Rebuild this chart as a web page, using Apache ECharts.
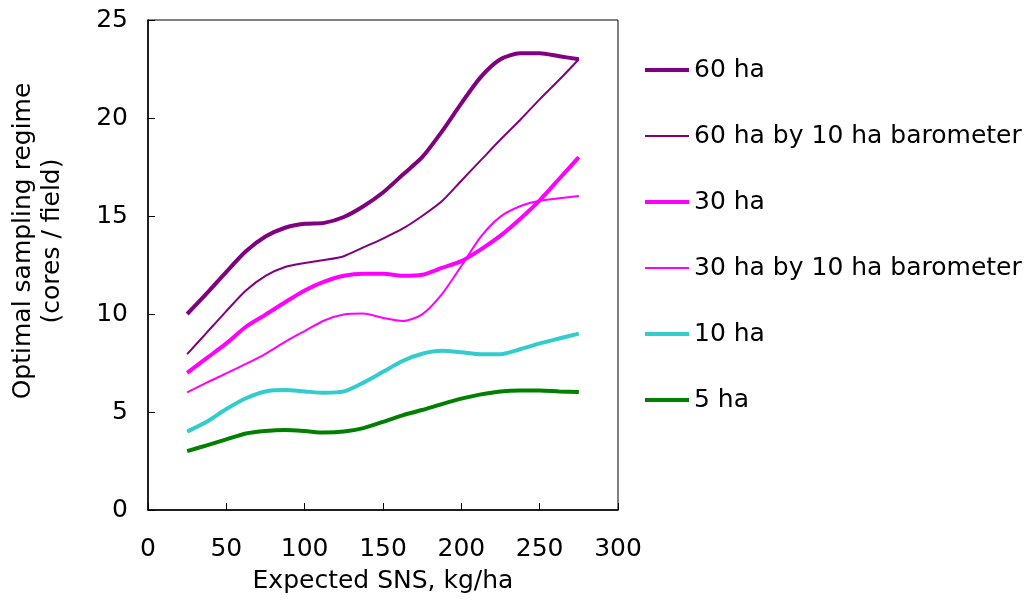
<!DOCTYPE html>
<html>
<head>
<meta charset="utf-8">
<script src="https://cdn.jsdelivr.net/npm/echarts@6/dist/echarts.min.js"></script>
<style>html,body{margin:0;padding:0;background:#fff;}#c{width:1024px;height:600px;}</style>
</head>
<body>
<div id="c"></div>
<script>
var sns = [25,37.5,50,62.5,75,87.5,100,112.5,125,137.5,150,162.5,175,187.5,200,212.5,225,237.5,250,262.5,275];
var ha60 = [10.0,11.05,12.15,13.2,13.95,14.4,14.6,14.65,14.95,15.5,16.2,17.1,18.0,19.3,20.75,22.1,23.0,23.3,23.3,23.15,23.0];
var ha60by10 = [7.95,9.05,10.15,11.2,11.95,12.4,12.6,12.75,12.95,13.4,13.85,14.35,15.0,15.75,16.8,17.85,18.9,19.9,20.95,21.95,23.0];
var ha30 = [7.0,7.75,8.5,9.35,9.97,10.6,11.2,11.65,11.95,12.05,12.05,11.95,12.0,12.35,12.7,13.3,14.0,14.85,15.8,16.9,18.0];
var ha30by10 = [6.0,6.5,6.97,7.45,7.97,8.58,9.13,9.67,9.97,10.02,9.8,9.64,9.98,11.0,12.45,13.95,14.97,15.5,15.78,15.9,16.02];
var ha10 = [4.0,4.5,5.15,5.7,6.05,6.12,6.05,5.98,6.05,6.5,7.05,7.6,7.97,8.12,8.05,7.95,7.95,8.2,8.5,8.75,9.0];
var ha5 = [3.0,3.3,3.6,3.9,4.03,4.08,4.03,3.95,4.0,4.18,4.5,4.83,5.1,5.4,5.68,5.9,6.05,6.1,6.1,6.05,6.02];
var seriesNames = ['60 ha','60 ha by 10 ha barometer','30 ha','30 ha by 10 ha barometer','10 ha','5 ha'];
var seriesValues = [ha60, ha60by10, ha30, ha30by10, ha10, ha5];
var seriesColors = ['#800080','#800080','#FF00FF','#FF00FF','#33CCCC','#008000'];
var seriesWidths = [4,2,4,2,4,4];
var xTicks = [0,50,100,150,200,250,300];
var yTicks = [0,5,10,15,20,25];

var FONT = 'DejaVu Sans';
var chart = echarts.init(document.getElementById('c'), null, {renderer:'canvas'});
var series = seriesNames.map(function(n, i){
  return {
    name: n, type: 'line', smooth: 0.25, symbol: 'none', showSymbol: false,
    data: sns.map(function(x, j){ return [x, seriesValues[i][j]]; }),
    lineStyle: {color: seriesColors[i], width: seriesWidths[i]},
    itemStyle: {color: seriesColors[i]},
    z: 10 - i
  };
});
chart.setOption({
  animation: false,
  backgroundColor: '#fff',
  grid: {left:148, top:20, width:470, height:490, show:true, borderColor:'#000', borderWidth:1, backgroundColor:'transparent'},
  xAxis: {
    type:'value', min:xTicks[0], max:xTicks[xTicks.length-1], interval:50,
    name:'Expected SNS, kg/ha', nameLocation:'middle', nameGap:59,
    nameTextStyle:{fontFamily:FONT, fontSize:25, color:'#000'},
    axisLine:{show:true, lineStyle:{color:'#000', width:1.5}},
    axisTick:{show:true, inside:true, length:7, lineStyle:{color:'#000', width:1}},
    axisLabel:{fontFamily:FONT, fontSize:25, color:'#000', margin:27},
    splitLine:{show:false}
  },
  yAxis: {
    type:'value', min:yTicks[0], max:yTicks[yTicks.length-1], interval:5,
    axisLine:{show:true, lineStyle:{color:'#000', width:1.5}},
    axisTick:{show:true, inside:true, length:7, lineStyle:{color:'#000', width:1}},
    axisLabel:{fontFamily:FONT, fontSize:25, color:'#000', margin:20},
    splitLine:{show:false}
  },
  legend: {
    orient:'vertical', left:643, top:57, padding:0, itemWidth:44, itemHeight:14, itemGap:40,
    data: seriesNames.map(function(n, i){
      return {name:n, itemStyle:{opacity:0}, lineStyle:{width:seriesWidths[i], color:seriesColors[i]}};
    }),
    textStyle:{fontFamily:FONT, fontSize:25, color:'#000', lineHeight:26}
  },
  graphic: [{
    type:'text', x:38, y:241, rotation: Math.PI/2,
    style:{text:'Optimal sampling regime\n(cores / field)', fontFamily:FONT, fontSize:25, fill:'#000', align:'center', verticalAlign:'middle', lineHeight:29}
  }],
  series: series
});
</script>
</body>
</html>
